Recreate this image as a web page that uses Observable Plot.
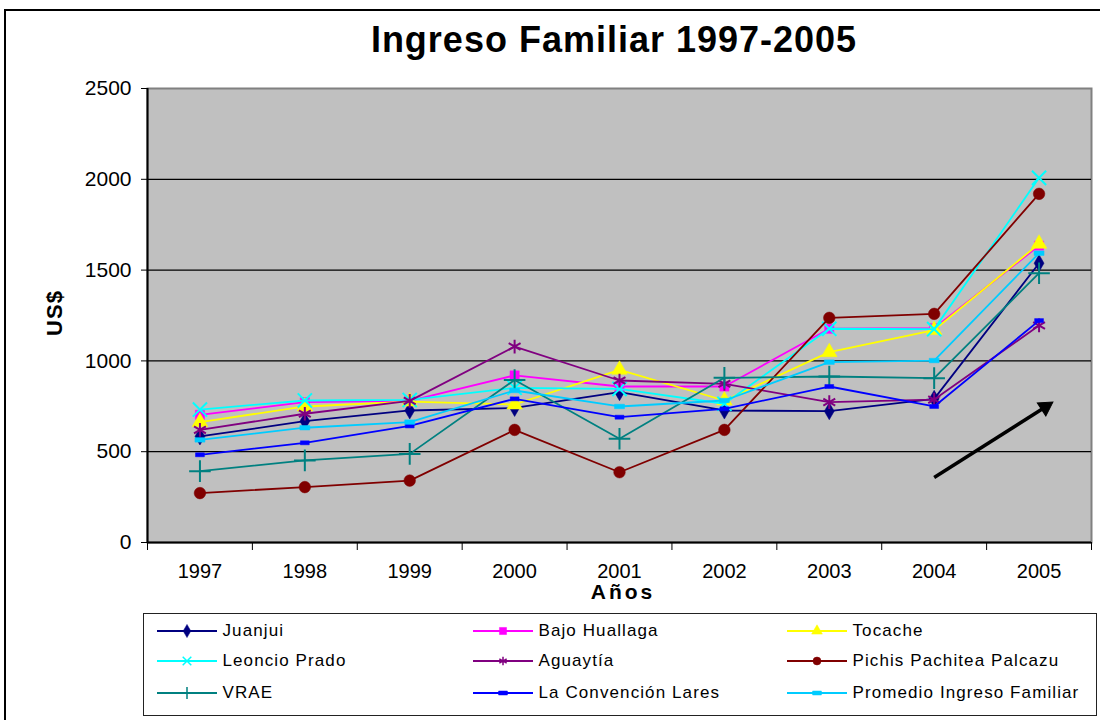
<!DOCTYPE html>
<html><head><meta charset="utf-8">
<script src="https://cdn.jsdelivr.net/npm/d3@7"></script>
<script src="https://cdn.jsdelivr.net/npm/@observablehq/plot@0.6"></script>
<style>
body{margin:0;background:#fff;font-family:"Liberation Sans",Arial,sans-serif;color:#000;}
#page{position:relative;width:1100px;height:720px;overflow:hidden;}
#border{position:absolute;left:4px;top:9px;width:1120px;height:740px;border:2px solid #000;box-sizing:border-box;}
#chart{position:absolute;left:0;top:0;}
#title{position:absolute;left:0;width:1228px;top:20px;text-align:center;font-weight:bold;font-size:36px;letter-spacing:1px;line-height:40px;}
#ylab{position:absolute;left:55px;top:313px;transform:translate(-50%,-50%) rotate(-90deg);font-weight:bold;font-size:22px;letter-spacing:1px;white-space:nowrap;}
#xlab{position:absolute;left:623px;top:592px;transform:translate(-50%,-50%);font-weight:bold;font-size:21px;letter-spacing:3px;white-space:nowrap;line-height:20px;}
#legend{position:absolute;left:143px;top:613px;width:954px;height:103px;border:1.5px solid #222;box-sizing:border-box;}
.item{position:absolute;display:flex;align-items:center;height:20px;font-size:17px;letter-spacing:1.1px;white-space:nowrap;}
.item svg{margin-right:4px;}
</style>
</head><body>
<div id="page">
<div id="border"></div>
<div id="chart"></div>
<div id="title">Ingreso Familiar 1997-2005</div>
<div id="ylab">US$</div>
<div id="xlab">Años</div>
<div id="legend"></div>
</div>
<script>
// ---- Data ----
const years = [1997, 1998, 1999, 2000, 2001, 2002, 2003, 2004, 2005];
const seriesNames = ["Juanjui", "Bajo Huallaga", "Tocache", "Leoncio Prado", "Aguaytía", "Pichis Pachitea Palcazu", "VRAE", "La Convención Lares", "Promedio Ingreso Familiar"];
const juanjui      = [584, 668, 727, 741, 828, 727, 723, 791, 1538];
const bajoHuallaga = [703, 773, 780, 920, 859, 859, 1177, 1180, 1635];
const tocache      = [663, 749, 776, 760, 951, 782, 1048, 1170, 1645];
const leoncioPrado = [732, 782, 785, 852, 846, 764, 1177, 1175, 2008];
const aguaytia     = [620, 709, 780, 1079, 892, 874, 773, 787, 1195];
const pichis       = [272, 305, 341, 620, 387, 620, 1237, 1259, 1920];
const vrae         = [393, 452, 488, 895, 571, 907, 914, 905, 1483];
const laConvencion = [483, 549, 642, 791, 690, 736, 859, 749, 1222];
const promedio     = [565, 632, 663, 837, 749, 782, 993, 1002, 1593];
const yTicks = [0, 500, 1000, 1500, 2000, 2500];
const gridTicks = [500, 1000, 1500, 2000];
// trend arrow annotation (start point and arrow-head centre, in data units)
const arrowData = [{x1: 2004.0, y1: 358, x2: 2005.06, y2: 746}];

// ---- Styles ----
const dashSymbol = {draw(ctx, size) { const w = Math.sqrt(size) * 1.25, h = w * 0.45; ctx.rect(-w / 2, -h / 2, w, h); }};
const styles = [
  {color: "#000080", symbol: "diamond", filled: true, r: 5.2},
  {color: "#FF00FF", symbol: "square", filled: true, r: 5.2},
  {color: "#FFFF00", symbol: "triangle", filled: true, r: 5.8},
  {color: "#00FFFF", symbol: "times", filled: false, r: 6.5},
  {color: "#800080", symbol: "asterisk", filled: false, r: 6.5},
  {color: "#800000", symbol: "circle", filled: true, r: 5.8},
  {color: "#008080", symbol: "plus", filled: false, r: 7},
  {color: "#0000FF", symbol: dashSymbol, filled: true, r: 4},
  {color: "#00CCFF", symbol: dashSymbol, filled: true, r: 4.5}
];
const values = [juanjui, bajoHuallaga, tocache, leoncioPrado, aguaytia, pichis, vrae, laConvencion, promedio];

const table = seriesNames.flatMap((name, k) => years.map((yr, i) => ({series: name, year: yr, value: values[k][i]})));

const halfYears = [years[0] - 0.5, ...years.map(y => y + 0.5)];

const marks = [
  Plot.frame({fill: "#C0C0C0", stroke: "#808080", strokeWidth: 2}),
  Plot.gridY(gridTicks, {stroke: "#000", strokeOpacity: 1, strokeWidth: 1.3}),
  Plot.ruleX([halfYears[0]], {stroke: "#000", strokeWidth: 2}),
  Plot.ruleY([0], {stroke: "#000", strokeWidth: 2}),
  Plot.axisY({ticks: yTicks, tickFormat: d => String(d), tickSize: 6, tickPadding: 10, fontSize: 21, label: null}),
  Plot.axisX({ticks: halfYears, tickFormat: () => "", tickSize: 8, label: null}),
  Plot.axisX({ticks: years, tickFormat: d => String(d), tickSize: 0, tickPadding: 21, fontSize: 20, label: null, letterSpacing: -0.5})
];
seriesNames.forEach((name, k) => {
  const st = styles[k];
  const data = table.filter(d => d.series === name);
  marks.push(Plot.lineY(data, {x: "year", y: "value", stroke: st.color, strokeWidth: 1.8}));
  marks.push(Plot.dot(data, {
    x: "year", y: "value", symbol: () => st.symbol, r: st.r,
    fill: st.filled ? st.color : "none", stroke: st.color, strokeWidth: st.filled ? 0.5 : 2
  }));
});
marks.push(Plot.link(arrowData, {x1: "x1", y1: "y1", x2: "x2", y2: "y2", stroke: "#000", strokeWidth: 3.5}));
marks.push(Plot.dot(arrowData, {x: "x2", y: "y2", symbol: "triangle", r: 5.8, rotate: 57, fill: "#000", stroke: "#000", strokeWidth: 1}));

const chart = Plot.plot({
  width: 1100, height: 610,
  marginLeft: 147, marginRight: 9, marginTop: 88, marginBottom: 68,
  x: {type: "linear", domain: [1996.5, 2005.5]},
  y: {domain: [0, 2500]},
  style: {fontFamily: "'Liberation Sans', Arial, sans-serif", color: "#000", background: "transparent", overflow: "visible"},
  marks
});
document.getElementById("chart").appendChild(chart);

// ---- Legend ----
const legend = document.getElementById("legend");
const colX = [157, 473, 787];
const rowY = [631, 661, 693];
const symMap = {diamond: d3.symbolDiamond, square: d3.symbolSquare, triangle: d3.symbolTriangle, times: d3.symbolTimes, asterisk: d3.symbolAsterisk, circle: d3.symbolCircle, plus: d3.symbolPlus};
seriesNames.forEach((name, k) => {
  const st = styles[k];
  const col = k % 3, row = Math.floor(k / 3);
  const div = document.createElement("div");
  div.className = "item";
  div.style.left = (colX[col] - 143 - 1.5) + "px";
  div.style.top = (rowY[row] - 613 - 10 - 1.5) + "px";
  const symType = typeof st.symbol === "string" ? symMap[st.symbol] : st.symbol;
  const path = d3.symbol(symType, 50)();
  const svgNS = "http://www.w3.org/2000/svg";
  const svg = document.createElementNS(svgNS, "svg");
  svg.setAttribute("width", 62); svg.setAttribute("height", 20);
  const line = document.createElementNS(svgNS, "line");
  line.setAttribute("x1", 0); line.setAttribute("x2", 60); line.setAttribute("y1", 10); line.setAttribute("y2", 10);
  line.setAttribute("stroke", st.color); line.setAttribute("stroke-width", 2);
  svg.appendChild(line);
  const p = document.createElementNS(svgNS, "path");
  p.setAttribute("d", path); p.setAttribute("transform", "translate(30,10)");
  p.setAttribute("fill", st.filled ? st.color : "none"); p.setAttribute("stroke", st.color);
  p.setAttribute("stroke-width", st.filled ? 0.5 : 1.5);
  svg.appendChild(p);
  div.appendChild(svg);
  const span = document.createElement("span");
  span.textContent = name;
  div.appendChild(span);
  legend.appendChild(div);
});
</script>
</body></html>
